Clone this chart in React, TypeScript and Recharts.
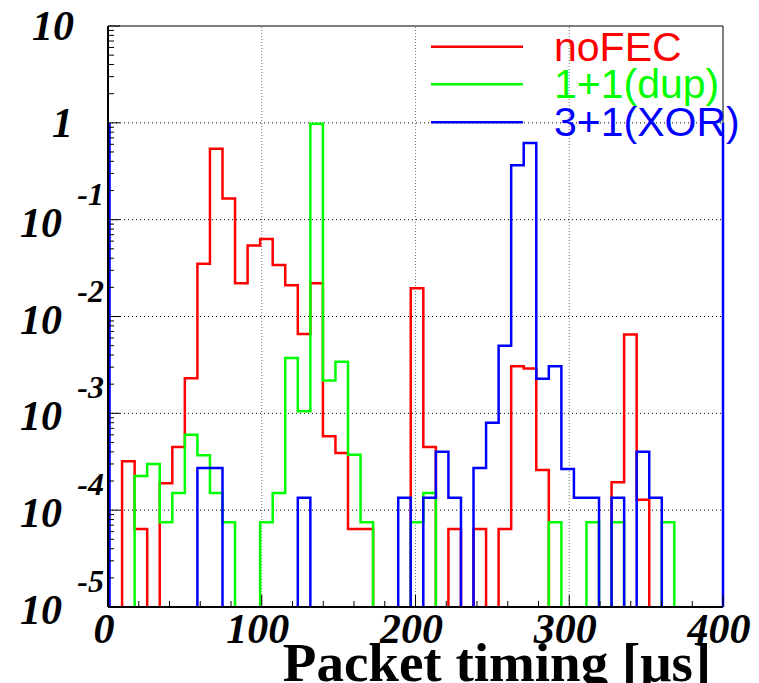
import React from 'react';
import { ComposedChart, Line, XAxis, YAxis, ReferenceLine, Label } from 'recharts';

// Histogram binning (49 bins of equal width starting just above 0)
const BIN_START = 1;
const BIN_WIDTH = 400 / 49;

// Bin contents (0 = empty bin)
const noFEC = [
  0, 3.2e-4, 6.4e-5, 0, 1.9e-4, 4.5e-4, 2.3e-3, 0.035, 0.54, 0.165,
  0.022, 0.054, 0.063, 0.034, 0.021, 0.0066, 0.022, 5.8e-4, 3.9e-4, 6.4e-5,
  6.4e-5, 0, 0, 0, 0.0196, 4.5e-4, 0, 6.4e-5, 0, 6.4e-5,
  0, 6.4e-5, 3.06e-3, 2.9e-3, 2.6e-4, 0, 0, 0, 0, 0,
  1.94e-4, 6.5e-3, 1.28e-4, 0, 0, 0, 0, 0, 0,
];
const dup = [
  0, 0, 2.25e-4, 3.0e-4, 7.5e-5, 1.5e-4, 6.0e-4, 3.7e-4, 1.5e-4, 7.5e-5,
  0, 0, 7.5e-5, 1.5e-4, 3.73e-3, 1.05e-3, 0.98, 2.18e-3, 3.4e-3, 3.74e-4,
  7.5e-5, 0, 0, 0, 7.5e-5, 1.5e-4, 0, 0, 0, 0,
  0, 0, 0, 0, 0, 7.5e-5, 0, 0, 7.5e-5, 0,
  7.5e-5, 0, 0, 0, 7.5e-5, 0, 0, 0, 0,
];
const xor = [
  0, 0, 0, 0, 0, 0, 0, 2.73e-4, 2.73e-4, 0,
  0, 0, 0, 0, 0, 1.34e-4, 0, 0, 0, 0,
  0, 0, 0, 1.34e-4, 0, 1.34e-4, 4.0e-4, 1.34e-4, 0, 2.73e-4,
  8.0e-4, 5.0e-3, 0.365, 0.62, 2.28e-3, 3.06e-3, 2.66e-4, 1.34e-4, 1.34e-4, 0,
  1.34e-4, 0, 4.0e-4, 1.34e-4, 0, 0, 0, 0, 0,
];
const xorUnderflow = 1;
const xorOverflow = 1;

const seriesNames = ['noFEC', '1+1(dup)', '3+1(XOR)'];
const seriesColors = ['#ff0000', '#00ff00', '#0000ff'];
const seriesKeys = ['noFEC', 'dup', 'xor'];

const xMajorTicks = [0, 100, 200, 300, 400];
const xMinorTicks = [20, 40, 60, 80, 120, 140, 160, 180, 220, 240, 260, 280, 320, 340, 360, 380];
const yMajorTicks = [1e-5, 1e-4, 1e-3, 1e-2, 1e-1, 1, 10];
const yMinorFactors = [2, 3, 4, 5, 6, 7, 8, 9];
const xGrid = [100, 200, 300];
const yGrid = [1e-4, 1e-3, 1e-2, 1e-1, 1];

const FLOOR = 1e-7; // stands in for empty bins on the log axis (below the frame)

const data = (() => {
  const rows: any[] = [];
  for (let k = 0; k <= noFEC.length; k++) {
    const i = Math.min(k, noFEC.length - 1);
    const last = k === noFEC.length;
    rows.push({
      x: BIN_START + k * BIN_WIDTH,
      noFEC: last ? FLOOR : noFEC[i] || FLOOR,
      dup: last ? FLOOR : dup[i] || FLOOR,
      xor: last ? FLOOR : xor[i] || FLOOR,
    });
  }
  return rows;
})();

const yTicks = (() => {
  const t: number[] = [...yMajorTicks];
  for (let e = -5; e < 1; e++) for (const f of yMinorFactors) t.push(f * Math.pow(10, e));
  return t.sort((a, b) => a - b);
})();
const xTicks = [...xMajorTicks, ...xMinorTicks].sort((a, b) => a - b);

const TICK_FONT = '"Liberation Serif", "Times New Roman", serif';

const YTick = (props: any) => {
  const { x, y, payload } = props;
  const v = payload.value;
  const lg = Math.log10(v);
  const e = Math.round(lg);
  const major = Math.abs(lg - e) < 1e-6;
  if (!major) {
    return <line x1={x} x2={x + 6} y1={y} y2={y} stroke="#000" strokeWidth={1} />;
  }
  let label: React.ReactNode = null;
  if (e === 1) {
    label = (
      <text x={74} y={y + 14} textAnchor="end" fontFamily={TICK_FONT} fontWeight="bold" fontStyle="italic" fontSize={42} fill="#000">10</text>
    );
  } else if (e === 0) {
    label = (
      <text x={73} y={y + 14} textAnchor="end" fontFamily={TICK_FONT} fontWeight="bold" fontStyle="italic" fontSize={42} fill="#000">1</text>
    );
  } else {
    label = (
      <g>
        <text x={62} y={y + 17} textAnchor="end" fontFamily={TICK_FONT} fontWeight="bold" fontStyle="italic" fontSize={42} fill="#000">10</text>
        <text x={104} y={y - 15} textAnchor="end" fontFamily={TICK_FONT} fontWeight="bold" fontStyle="italic" fontSize={32} fill="#000">{String(e)}</text>
      </g>
    );
  }
  return (
    <g>
      <line x1={x} x2={x + 12} y1={y} y2={y} stroke="#000" strokeWidth={1} />
      {label}
    </g>
  );
};

const XTick = (props: any) => {
  const { x, y, payload } = props;
  const v = payload.value;
  const major = xMajorTicks.includes(v);
  if (!major) {
    return <line x1={x} x2={x} y1={y} y2={y - 6} stroke="#000" strokeWidth={1} />;
  }
  return (
    <g>
      <line x1={x} x2={x} y1={y} y2={y - 12} stroke="#000" strokeWidth={1} />
      <text x={x - 4} y={y + 36} textAnchor="middle" fontFamily={TICK_FONT} fontWeight="bold" fontStyle="italic" fontSize={42} fill="#000">{String(v)}</text>
    </g>
  );
};

const TitleLabel = () => (
  <text x={497} y={681} textAnchor="middle" fontFamily={TICK_FONT} fontWeight="bold" fontSize={55} fill="#000">Packet timing [μs]</text>
);

const legendLineY = [46.7, 84.3, 122.3];

export default function App() {
  return (
    <div style={{ position: 'absolute', left: 0, top: 0, width: 759, height: 683, background: '#fff', overflow: 'hidden' }}>
      <ComposedChart width={759} height={683} data={data} margin={{ top: 26, right: 36, bottom: 0, left: 0 }}>
        <XAxis
          dataKey="x"
          type="number"
          domain={[0, 400]}
          allowDataOverflow
          ticks={xTicks}
          interval={0}
          tickSize={0}
          tickMargin={0}
          tick={<XTick />}
          height={76}
          axisLine={{ stroke: '#000', strokeWidth: 2 }}
        >
          <Label content={<TitleLabel />} />
        </XAxis>
        <YAxis
          type="number"
          scale="log"
          domain={[1e-5, 10]}
          allowDataOverflow
          ticks={yTicks}
          interval={0}
          tickSize={0}
          tickMargin={0}
          tick={<YTick />}
          width={108}
          axisLine={{ stroke: '#000', strokeWidth: 2 }}
        />
        {xGrid.map((g) => (
          <ReferenceLine key={'xg' + g} x={g} stroke="#777" strokeDasharray="1 2" strokeWidth={1} />
        ))}
        {yGrid.map((g) => (
          <ReferenceLine key={'yg' + g} y={g} stroke="#000" strokeDasharray="1 3" strokeWidth={1} />
        ))}
        <ReferenceLine y={10} stroke="#000" strokeWidth={1} />
        <ReferenceLine x={400} stroke="#000" strokeWidth={1} />
        {seriesKeys.map((k, i) => (
          <Line
            key={k}
            type="stepAfter"
            dataKey={k}
            stroke={seriesColors[i]}
            strokeWidth={2.5}
            dot={false}
            activeDot={false}
            isAnimationActive={false}
          />
        ))}
        <ReferenceLine
          segment={[{ x: BIN_START, y: 1e-5 }, { x: BIN_START, y: xorUnderflow }]}
          stroke="#0000ff"
          strokeWidth={2.5}
        />
        <ReferenceLine
          segment={[{ x: 400, y: 1e-5 }, { x: 400, y: xorOverflow }]}
          stroke="#0000ff"
          strokeWidth={2.5}
        />
      </ComposedChart>
      <svg width={759} height={683} style={{ position: 'absolute', left: 0, top: 0, pointerEvents: 'none' }}>
        {seriesNames.map((n, i) => (
          <g key={n}>
            <line x1={431} x2={523} y1={legendLineY[i]} y2={legendLineY[i]} stroke={seriesColors[i]} strokeWidth={2.5} />
            <text x={554} y={legendLineY[i] + 14} fontFamily='"Liberation Sans", Arial, sans-serif' fontSize={41} fill={seriesColors[i]}>{n}</text>
          </g>
        ))}
      </svg>
    </div>
  );
}
